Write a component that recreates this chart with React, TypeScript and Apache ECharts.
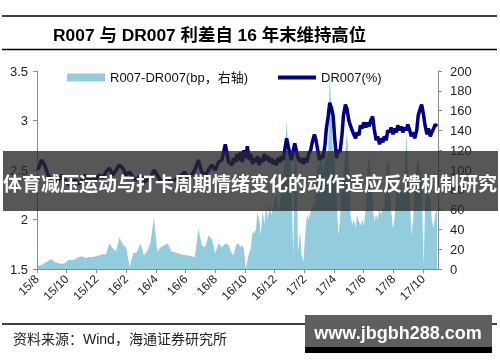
import React, { useEffect, useRef } from "react";
import * as echarts from "echarts";

// Sampling dates (weekly until Aug 2016, twice weekly afterwards), one row per month
const dates = [
  "2015-08-03","2015-08-10","2015-08-17","2015-08-24","2015-08-31",
  "2015-09-07","2015-09-14","2015-09-21","2015-09-28",
  "2015-10-05","2015-10-12","2015-10-19","2015-10-26",
  "2015-11-02","2015-11-09","2015-11-16","2015-11-23","2015-11-30",
  "2015-12-07","2015-12-14","2015-12-21","2015-12-28",
  "2016-01-04","2016-01-11","2016-01-18","2016-01-25",
  "2016-02-01","2016-02-08","2016-02-15","2016-02-22","2016-02-29",
  "2016-03-07","2016-03-14","2016-03-21","2016-03-28",
  "2016-04-04","2016-04-11","2016-04-18","2016-04-25",
  "2016-05-02","2016-05-09","2016-05-16","2016-05-23","2016-05-30",
  "2016-06-06","2016-06-13","2016-06-20","2016-06-27",
  "2016-07-04","2016-07-11","2016-07-18","2016-07-25",
  "2016-08-01","2016-08-08","2016-08-15","2016-08-22","2016-08-29",
  "2016-09-05","2016-09-08","2016-09-12","2016-09-15","2016-09-19","2016-09-22","2016-09-26","2016-09-29",
  "2016-10-03","2016-10-06","2016-10-10","2016-10-13","2016-10-17","2016-10-20","2016-10-24","2016-10-27","2016-10-31",
  "2016-11-03","2016-11-07","2016-11-10","2016-11-14","2016-11-17","2016-11-21","2016-11-24","2016-11-28",
  "2016-12-01","2016-12-05","2016-12-08","2016-12-12","2016-12-15","2016-12-19","2016-12-22","2016-12-26","2016-12-29",
  "2017-01-02","2017-01-05","2017-01-09","2017-01-12","2017-01-16","2017-01-19","2017-01-23","2017-01-26","2017-01-30",
  "2017-02-02","2017-02-06","2017-02-09","2017-02-13","2017-02-16","2017-02-20","2017-02-23","2017-02-27",
  "2017-03-02","2017-03-06","2017-03-09","2017-03-13","2017-03-16","2017-03-20","2017-03-23","2017-03-27","2017-03-30",
  "2017-04-03","2017-04-06","2017-04-10","2017-04-13","2017-04-17","2017-04-20","2017-04-24","2017-04-27",
  "2017-05-01","2017-05-04","2017-05-08","2017-05-11","2017-05-15","2017-05-18","2017-05-22","2017-05-25","2017-05-29",
  "2017-06-01","2017-06-05","2017-06-08","2017-06-12","2017-06-15","2017-06-19","2017-06-22","2017-06-26","2017-06-29",
  "2017-07-03","2017-07-06","2017-07-10","2017-07-13","2017-07-17","2017-07-20","2017-07-24","2017-07-27","2017-07-31",
  "2017-08-03","2017-08-07","2017-08-10","2017-08-14","2017-08-17","2017-08-21","2017-08-24","2017-08-28","2017-08-31",
  "2017-09-04","2017-09-07","2017-09-11","2017-09-14","2017-09-18","2017-09-21","2017-09-25","2017-09-28",
  "2017-10-02","2017-10-05","2017-10-09","2017-10-12","2017-10-16","2017-10-19","2017-10-23","2017-10-26","2017-10-30",
];

// R007-DR007 spread, bp (right axis)
const spreadBp = [
  3, 4, 6, 8, 10,
  7, 6, 5, 6,
  9, 9, 10, 12,
  13, 11, 12, 12, 13,
  14, 15, 15, 26,
  21, 18, 32, 25,
  22, 2, 16, 17, 26,
  14, 18, 27, 52,
  18, 22, 24, 26,
  18, 17, 16, 15, 14,
  14, 13, 12, 41,
  24, 22, 34, 30,
  16, 26, 22, 26, 24,
  15, 14, 22, 26, 25, 22, 24, 20,
  0, 8, 17, 20, 38, 36, 40, 57, 50,
  34, 60, 45, 65, 50, 68, 55, 62,
  70, 75, 58, 65, 80, 95, 110, 150, 125,
  118, 90, 14, 118, 105, 17, 40, 15, 7,
  30, 55, 50, 58, 65, 62, 90, 110,
  100, 118, 95, 110, 112, 120, 200, 150, 115,
  108, 70, 34, 50, 88, 95, 120, 138,
  110, 55, 45, 50, 42, 55, 48, 44, 50,
  44, 60, 100, 115, 95, 70, 48, 55, 50,
  60, 55, 62, 60, 100, 110, 105, 60, 41,
  50, 75, 80, 72, 85, 75, 90, 138, 100,
  80, 34, 50, 85, 105, 112, 100, 90,
  3, 65, 78, 72, 75, 50, 41, 55, 60,
];

// DR007, % (left axis)
const dr007 = [
  2.50, 2.60, 2.55, 2.45, 2.40,
  2.42, 2.38, 2.45, 2.40,
  2.35, 2.38, 2.40, 2.36,
  2.40, 2.45, 2.38, 2.42, 2.40,
  2.45, 2.42, 2.48, 2.52,
  2.45, 2.50, 2.55, 2.52,
  2.45, 2.48, 2.42, 2.40, 2.45,
  2.38, 2.40, 2.42, 2.50,
  2.45, 2.38, 2.40, 2.42,
  2.38, 2.40, 2.42, 2.45, 2.48,
  2.42, 2.45, 2.50, 2.60,
  2.48, 2.45, 2.50, 2.55,
  2.50, 2.58, 2.60, 2.76, 2.58,
  2.55, 2.62, 2.58, 2.66, 2.60, 2.68, 2.58, 2.70,
  2.62, 2.74, 2.60, 2.66, 2.56, 2.62, 2.58, 2.64, 2.55,
  2.62, 2.58, 2.66, 2.60, 2.64, 2.58, 2.62, 2.56,
  2.60, 2.55, 2.62, 2.58, 2.64, 2.60, 2.70, 2.82, 2.75,
  2.66, 2.60, 2.70, 2.77, 2.68, 2.62, 2.58, 2.62, 2.56,
  2.62, 2.58, 2.66, 2.70, 2.78, 2.86, 2.80, 2.68,
  2.60, 2.65, 2.62, 2.75, 2.92, 3.05, 3.18, 3.12, 3.05,
  2.78, 2.62, 2.70, 2.68, 2.85, 3.05, 3.16, 3.12,
  3.00, 2.95, 2.90, 2.86, 2.82, 2.88, 2.85, 2.95, 2.92,
  2.98, 2.93, 2.98, 2.94, 3.00, 3.04, 2.92, 2.80, 2.84,
  2.76, 2.82, 2.78, 2.84, 2.80, 2.90, 2.88, 2.93, 2.86,
  2.92, 2.88, 2.95, 2.90, 2.94, 2.88, 2.93, 2.90, 2.96,
  2.90, 2.84, 2.88, 2.82, 2.90, 3.05, 3.12, 3.16,
  3.05, 2.95, 2.86, 2.92, 2.84, 2.88, 2.92, 2.96, 2.94,
];

const tickLabels = ["15/8", "15/10", "15/12", "16/2", "16/4", "16/6", "16/8", "16/10", "16/12", "17/2", "17/4", "17/6", "17/8", "17/10"];

const seriesSpread = "R007-DR007(bp，右轴)";
const seriesDr = "DR007(%)";
const titleText = "R007 与 DR007 利差自 16 年末维持高位";
const sourceText = "资料来源：Wind，海通证券研究所";
const bannerText = "体育减压运动与打卡周期情绪变化的动作适应反馈机制研究";
const watermarkText = "www.jbgbh288.com";

const LATIN = "'Liberation Sans', Arial, 'Noto Sans CJK SC', sans-serif";

// months elapsed since 2015-08-01 (x axis unit = one month)
const monthPos = (s: string) => {
  const [y, m, d] = s.split("-").map(Number);
  const dim = new Date(y, m, 0).getDate();
  return (y - 2015) * 12 + (m - 8) + (d - 1) / dim;
};

export default function App() {
  const ref = useRef<HTMLDivElement>(null);
  useEffect(() => {
    const chart = echarts.init(ref.current!, null, { renderer: "svg" });
    const labelOf = (v: number) => {
      const r = Math.round(v);
      if (Math.abs(v - r) > 1e-6 || r % 2 !== 0) return "";
      return tickLabels[r / 2] ?? "";
    };
    const axisColor = "#8a8a8a";
    chart.setOption({
      animation: false,
      textStyle: { fontFamily: LATIN },
      grid: { left: 37, right: 62, top: 71, bottom: 93, containLabel: false },
      legend: {
        left: 67,
        top: 71,
        padding: 0,
        itemGap: 30,
        itemWidth: 38,
        itemHeight: 8,
        textStyle: { fontSize: 13, color: "#111", fontFamily: LATIN },
        data: [
          { name: seriesSpread, icon: "rect" },
          { name: seriesDr, icon: "path://M0 0H38V4H0Z" },
        ],
      },
      xAxis: {
        type: "value",
        min: 0,
        max: 27,
        interval: 2,
        axisLine: { lineStyle: { color: axisColor, width: 1 } },
        axisTick: { show: true, length: 4, lineStyle: { color: axisColor } },
        axisLabel: {
          rotate: 45,
          fontSize: 12,
          color: "#222",
          margin: 8,
          showMaxLabel: false,
          formatter: (v: number) => labelOf(v),
        },
        splitLine: { show: false },
      },
      yAxis: [
        {
          type: "value",
          min: 1.5,
          max: 3.5,
          interval: 0.5,
          position: "left",
          axisLine: { show: true, lineStyle: { color: axisColor } },
          axisTick: { show: true, length: 4, lineStyle: { color: axisColor } },
          axisLabel: { fontSize: 13, color: "#222", margin: 9 },
          splitLine: { show: false },
        },
        {
          type: "value",
          min: 0,
          max: 200,
          interval: 20,
          position: "right",
          axisLine: { show: true, lineStyle: { color: axisColor } },
          axisTick: { show: true, length: 4, lineStyle: { color: axisColor } },
          axisLabel: { fontSize: 13, color: "#222", margin: 12 },
          splitLine: { show: false },
        },
      ],
      series: [
        {
          name: seriesSpread,
          type: "line",
          yAxisIndex: 1,
          symbol: "none",
          data: dates.map((d, i) => [monthPos(d), spreadBp[i]]),
          lineStyle: { width: 0 },
          itemStyle: { color: "#93CDDD" },
          areaStyle: { color: "#93CDDD", opacity: 1 },
          z: 2,
        },
        {
          name: seriesDr,
          type: "line",
          yAxisIndex: 0,
          symbol: "none",
          data: dates.map((d, i) => [monthPos(d), dr007[i]]),
          lineStyle: { width: 3.5, color: "#000080" },
          itemStyle: { color: "#000080" },
          z: 3,
        },
      ],
      graphic: [
        { type: "line", z: 100, shape: { x1: 2, y1: 16, x2: 497, y2: 16 }, style: { stroke: "#000", lineWidth: 1.5 } },
        { type: "line", z: 100, shape: { x1: 2, y1: 49.5, x2: 497, y2: 49.5 }, style: { stroke: "#000", lineWidth: 1.5 } },
        {
          type: "text",
          z: 100,
          x: 53,
          y: 34.5,
          style: { text: titleText, fontSize: 17.4, fontWeight: "bold", fill: "#000", align: "left", verticalAlign: "middle", fontFamily: LATIN },
        },
        { type: "line", z: 100, shape: { x1: 2, y1: 324, x2: 497, y2: 324 }, style: { stroke: "#000", lineWidth: 1.5 } },
        {
          type: "text",
          z: 100,
          x: 13,
          y: 339,
          style: { text: sourceText, fontSize: 14, fill: "#222", align: "left", verticalAlign: "middle", fontFamily: LATIN },
        },
        { type: "rect", z: 100, shape: { x: 3, y: 151, width: 495, height: 60 }, style: { fill: "rgba(40,40,40,0.78)" } },
        {
          type: "text",
          z: 101,
          x: 250,
          y: 182.5,
          style: { text: bannerText, fontSize: 19, fontWeight: "bold", fill: "#fff", align: "center", verticalAlign: "middle", fontFamily: "'Noto Sans CJK SC', sans-serif" },
        },
        { type: "rect", z: 100, shape: { x: 305, y: 315, width: 187, height: 32 }, style: { fill: "#5f5f5f" } },
        { type: "rect", z: 100, shape: { x: 305, y: 347, width: 187, height: 6 }, style: { fill: "#000" } },
        {
          type: "text",
          z: 101,
          x: 398,
          y: 333,
          style: { text: watermarkText, fontSize: 18, fontWeight: "bold", fill: "#fff", align: "center", verticalAlign: "middle", fontFamily: LATIN },
        },
      ],
    });
    return () => chart.dispose();
  }, []);
  return <div ref={ref} style={{ position: "fixed", left: 0, top: 0, width: 500, height: 362 }} />;
}
